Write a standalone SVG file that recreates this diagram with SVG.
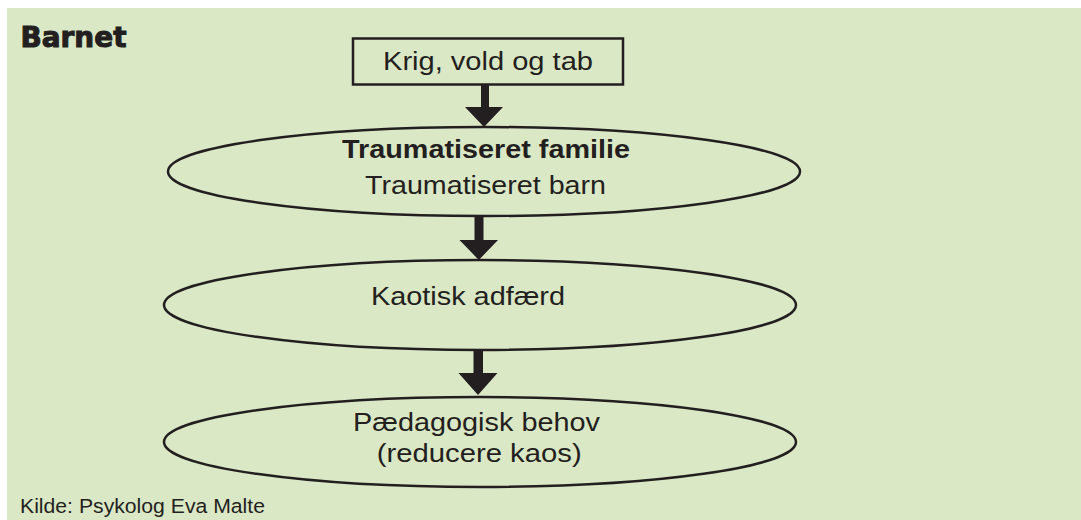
<svg xmlns="http://www.w3.org/2000/svg" width="1081" height="520" viewBox="0 0 1081 520">
<style>
.bg{fill:#dbe8c6}
.shape{fill:#dbe8c6;stroke:#231f20;stroke-width:2.5}
.arrow{fill:#231f20;stroke:none}
.t{font-family:"Liberation Sans",Arial,sans-serif;font-size:26.5px;fill:#231f20;text-anchor:middle}
.b{font-weight:bold}
.title{font-family:"DejaVu Sans","Liberation Sans",sans-serif;font-weight:bold;font-size:27.5px;fill:#231f20;stroke:#231f20;stroke-width:1}
.src{font-family:"Liberation Sans",Arial,sans-serif;font-size:19.3px;fill:#231f20}
</style>
<rect x="0" y="0" width="1081" height="520" fill="#ffffff"/>
<rect class="bg" x="7" y="8" width="1074" height="512"/>
<text class="title" x="20.5" y="46.5" textLength="106" lengthAdjust="spacingAndGlyphs">Barnet</text>
<g id="connectors">
<path class="arrow" d="M481,83 H489 V107 H503 L484,127 L465,107 H481 Z"/>
<path class="arrow" d="M474.5,215 H483.5 V240 H498 L478.8,260 L459.5,240 H474.5 Z"/>
<path class="arrow" d="M473.5,349 H483 V373 H497.5 L478,395 L458.5,373 H473.5 Z"/>
</g>
<g id="node-krig">
<rect class="shape" x="353" y="38.5" width="270" height="46"/>
<text class="t" x="488" y="70" textLength="210" lengthAdjust="spacingAndGlyphs">Krig, vold og tab</text>
</g>
<g id="node-traume">
<ellipse class="shape" cx="484" cy="171.5" rx="316" ry="44.5"/>
<text class="t b" x="486" y="158.3" textLength="288" lengthAdjust="spacingAndGlyphs">Traumatiseret familie</text>
<text class="t" x="485.5" y="193.5" textLength="241" lengthAdjust="spacingAndGlyphs">Traumatiseret barn</text>
</g>
<g id="node-kaos">
<ellipse class="shape" cx="480" cy="305" rx="316" ry="45"/>
<text class="t" x="468" y="305" textLength="194" lengthAdjust="spacingAndGlyphs">Kaotisk adfærd</text>
</g>
<g id="node-behov">
<ellipse class="shape" cx="480" cy="442" rx="316" ry="45"/>
<text class="t" x="476.5" y="430.7" textLength="247" lengthAdjust="spacingAndGlyphs">Pædagogisk behov</text>
<text class="t" x="479.2" y="461.5" textLength="205" lengthAdjust="spacingAndGlyphs">(reducere kaos)</text>
</g>
<text class="src" x="20" y="513.3" textLength="245" lengthAdjust="spacingAndGlyphs">Kilde: Psykolog Eva Malte</text>
</svg>
